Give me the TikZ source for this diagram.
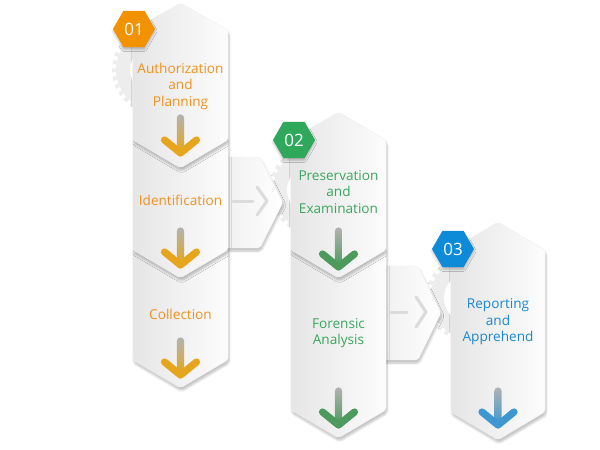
\documentclass[tikz,border=0pt]{standalone}
\usepackage{fontspec}
\setmainfont{Open Sans}
\usetikzlibrary{shapes.geometric, calc, shadows.blur}

\definecolor{stepOrange}{HTML}{F39200}
\definecolor{stepGreen}{HTML}{2FA85C}
\definecolor{stepBlue}{HTML}{0D8BD9}
\definecolor{txtOrange}{HTML}{F0921E}
\definecolor{txtGreen}{HTML}{3AA760}
\definecolor{txtBlue}{HTML}{1A88D0}
\definecolor{arrOrange}{HTML}{E6A51C}
\definecolor{arrGreen}{HTML}{4C9A5C}
\definecolor{arrBlue}{HTML}{3E97D1}

\begin{document}
\begin{tikzpicture}[x=1pt, y=-1pt,
  tile/.style={left color=black!10, right color=black!1, draw=black!6,
               rounded corners=2pt,
               blur shadow={shadow xshift=1pt, shadow yshift=-3pt,
                            shadow blur steps=6, shadow opacity=25}},
  link/.style={tile, left color=black!6, right color=white},
  linkarrow/.style={line width=3pt, line cap=round, line join=round, black!14},
  gear/.style={black!7},
  badge/.style={regular polygon, regular polygon sides=6, minimum size=42pt,
                inner sep=0pt, text=white, font=\fontsize{17}{17}\selectfont,
                blur shadow={shadow xshift=0pt, shadow yshift=-2pt,
                             shadow blur steps=4, shadow opacity=25}},
  label/.style={align=center, font=\fontsize{13.6}{16.5}\selectfont}
]
  \useasboundingbox (0,0) rectangle (600,450);

  % gears behind the columns
  \foreach \gx/\gy in {156/70, 313/190, 470/298} {
    \draw[gear, line width=14pt] (\gx,\gy) circle (33);
    \draw[gear, line width=5pt, dash pattern=on 4pt off 4pt] (\gx,\gy) circle (41.5);
  }

  % links between the columns
  \path[link] (222,157) -- (260,157) -- (283,202.5) -- (260,248) -- (222,248) -- cycle;
  \path[link] (380,266) -- (418,266) -- (441,313) -- (418,360) -- (380,360) -- cycle;
  \coordinate (l1a) at (233,201);
  \coordinate (l1b) at (253,201);
  \coordinate (l1c) at (267,201);
  \coordinate (l2a) at (391,312);
  \coordinate (l2b) at (407,312);
  \coordinate (l2c) at (426,312);
  \draw[linkarrow] (l1a) -- (l1b);
  \draw[linkarrow] ($(l1c)+(-10,-14)$) -- (l1c) -- ($(l1c)+(-10,14)$);
  \draw[linkarrow] (l2a) -- (l2b);
  \draw[linkarrow] ($(l2c)+(-10,-15)$) -- (l2c) -- ($(l2c)+(-10,15)$);

  % column 3
  \path[tile] (451,250) -- (498,222) -- (545,250) -- (545,412) -- (498,440) -- (451,412) -- cycle;

  % column 2
  \path[tile] (291,248) -- (386,248) -- (386,410) -- (338.5,438) -- (291,410) -- cycle;
  \path[tile] (291,140) -- (338.5,112) -- (386,140) -- (386,250) -- (338.5,278) -- (291,250) -- cycle;

  % column 1
  \path[tile] (133,248) -- (228,248) -- (228,360) -- (180.5,388) -- (133,360) -- cycle;
  \path[tile] (133,138) -- (228,138) -- (228,250) -- (180.5,278) -- (133,250) -- cycle;
  \path[tile] (133,30) -- (180.5,3) -- (228,30) -- (228,140) -- (180.5,168) -- (133,140) -- cycle;

  % down arrows
  \foreach \x/\ya/\yb/\c [count=\i] in {180.5/118/153/arrOrange, 180.5/231/265/arrOrange,
      180.5/341/375/arrOrange, 338.5/231/267/arrGreen, 338.5/391/425/arrGreen,
      498/391/425/arrBlue} {
    \coordinate (dt\i) at (\x,\ya);
    \coordinate (dh\i) at (\x,\yb);
    \shade[top color=black!30, bottom color=\c, rounded corners=3.5pt]
      ($(dt\i)+(-3.6,-3.6)$) rectangle ($(dh\i)+(3.6,0)$);
    \draw[\c, line width=7.2pt, line cap=round, line join=round]
      ($(dh\i)+(-16,-13)$) -- (dh\i) -- ($(dh\i)+(16,-13)$);
  }

  % badges
  \node[badge, fill=stepOrange] (b1) at (134,29)  {01};
  \node[badge, fill=stepGreen]  (b2) at (294,140) {02};
  \node[badge, fill=stepBlue]   (b3) at (453,249) {03};

  % step texts
  \node[label, text=txtOrange] (auth)     at (180.5,86)  {Authorization\\and\\Planning};
  \node[label, text=txtOrange] (ident)    at (180.5,200) {Identification};
  \node[label, text=txtOrange] (collect)  at (180.5,314) {Collection};
  \node[label, text=txtGreen]  (preserve) at (338.5,192) {Preservation\\and\\Examination};
  \node[label, text=txtGreen]  (forensic) at (338.5,333) {Forensic\\Analysis};
  \node[label, text=txtBlue]   (report)   at (498,322)   {Reporting\\and\\Apprehend};
\end{tikzpicture}
\end{document}
